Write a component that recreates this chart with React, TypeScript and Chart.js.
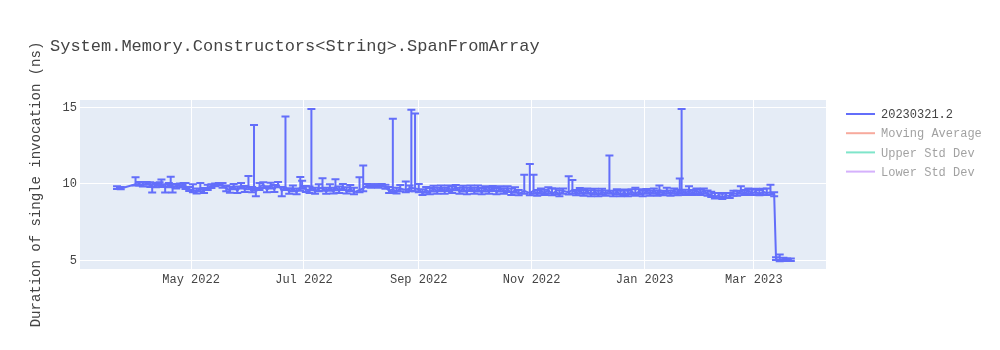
import { useEffect, useRef } from "react";
import { Chart, registerables } from "chart.js";
Chart.register(...registerables);

const TITLE = "System.Memory.Constructors<String>.SpanFromArray";
const Y_TITLE = "Duration of single invocation (ns)";
const SERIES_NAMES = ["20230321.2", "Moving Average", "Upper Std Dev", "Lower Std Dev"];
const SERIES_COLORS = ["#636efa", "#EF553B", "#00cc96", "#ab63fa"];
const SERIES_VISIBLE = [true, false, false, false];

const DATES = [
  "2022-03-22", "2022-03-24", "2022-04-01", "2022-04-03", "2022-04-05", "2022-04-07", "2022-04-09", "2022-04-10", "2022-04-12", "2022-04-14",
  "2022-04-15", "2022-04-17", "2022-04-19", "2022-04-20", "2022-04-21", "2022-04-23", "2022-04-25", "2022-04-27", "2022-04-28", "2022-04-30",
  "2022-05-02", "2022-05-04", "2022-05-06", "2022-05-08", "2022-05-10", "2022-05-12", "2022-05-14", "2022-05-16", "2022-05-18", "2022-05-20",
  "2022-05-22", "2022-05-24", "2022-05-26", "2022-05-28", "2022-05-30", "2022-06-01", "2022-06-03", "2022-06-04", "2022-06-05", "2022-06-07",
  "2022-06-09", "2022-06-11", "2022-06-13", "2022-06-15", "2022-06-17", "2022-06-19", "2022-06-21", "2022-06-23", "2022-06-25", "2022-06-27",
  "2022-06-29", "2022-06-30", "2022-07-02", "2022-07-04", "2022-07-05", "2022-07-07", "2022-07-09", "2022-07-11", "2022-07-13", "2022-07-15",
  "2022-07-17", "2022-07-18", "2022-07-20", "2022-07-22", "2022-07-24", "2022-07-26", "2022-07-28", "2022-07-31", "2022-08-02", "2022-08-04",
  "2022-08-06", "2022-08-08", "2022-08-10", "2022-08-12", "2022-08-14", "2022-08-16", "2022-08-18", "2022-08-20", "2022-08-22", "2022-08-25",
  "2022-08-27", "2022-08-28", "2022-08-30", "2022-09-01", "2022-09-03", "2022-09-05", "2022-09-07", "2022-09-09", "2022-09-11", "2022-09-13",
  "2022-09-15", "2022-09-17", "2022-09-19", "2022-09-21", "2022-09-23", "2022-09-25", "2022-09-27", "2022-09-29", "2022-10-01", "2022-10-03",
  "2022-10-05", "2022-10-07", "2022-10-09", "2022-10-11", "2022-10-13", "2022-10-15", "2022-10-17", "2022-10-19", "2022-10-21", "2022-10-23",
  "2022-10-25", "2022-10-28", "2022-10-31", "2022-11-02", "2022-11-04", "2022-11-06", "2022-11-08", "2022-11-10", "2022-11-12", "2022-11-14",
  "2022-11-16", "2022-11-18", "2022-11-21", "2022-11-23", "2022-11-25", "2022-11-27", "2022-11-29", "2022-12-01", "2022-12-03", "2022-12-05",
  "2022-12-07", "2022-12-09", "2022-12-11", "2022-12-13", "2022-12-15", "2022-12-17", "2022-12-19", "2022-12-21", "2022-12-23", "2022-12-25",
  "2022-12-27", "2022-12-29", "2022-12-31", "2023-01-02", "2023-01-04", "2023-01-06", "2023-01-08", "2023-01-09", "2023-01-11", "2023-01-13",
  "2023-01-15", "2023-01-17", "2023-01-19", "2023-01-20", "2023-01-21", "2023-01-23", "2023-01-25", "2023-01-27", "2023-01-29", "2023-01-31",
  "2023-02-02", "2023-02-04", "2023-02-06", "2023-02-08", "2023-02-10", "2023-02-12", "2023-02-14", "2023-02-16", "2023-02-18", "2023-02-20",
  "2023-02-22", "2023-02-24", "2023-02-26", "2023-02-28", "2023-03-02", "2023-03-04", "2023-03-06", "2023-03-08", "2023-03-10", "2023-03-12",
  "2023-03-13", "2023-03-15", "2023-03-17", "2023-03-19", "2023-03-21",
];

const VALUES = [
  9.72, 9.70, 9.98, 10.0, 9.95, 10.02, 9.95, 9.8, 9.9, 10.0,
  9.95, 9.8, 9.9, 9.95, 9.75, 9.85, 9.9, 9.95, 9.85, 9.65,
  9.6, 9.5, 9.7, 9.55, 9.75, 9.85, 9.95, 9.97, 9.9, 9.7,
  9.6, 9.85, 9.55, 9.9, 9.65, 9.85, 9.6, 9.8, 9.55, 9.8,
  9.95, 9.6, 9.9, 9.65, 10.0, 9.55, 9.8, 9.5, 9.7, 9.45,
  9.75, 9.9, 9.65, 9.55, 9.8, 9.5, 9.7, 9.75, 9.5, 9.75,
  9.5, 9.8, 9.55, 9.8, 9.5, 9.7, 9.45, 9.6, 9.7, 9.9,
  9.85, 9.9, 9.85, 9.9, 9.8, 9.55, 9.65, 9.5, 9.7, 9.6,
  9.7, 9.75, 9.7, 9.65, 9.4, 9.6, 9.45, 9.7, 9.5, 9.75,
  9.5, 9.75, 9.55, 9.8, 9.5, 9.7, 9.45, 9.75, 9.5, 9.7,
  9.45, 9.7, 9.5, 9.75, 9.45, 9.7, 9.5, 9.65, 9.4, 9.6,
  9.35, 9.55, 9.4, 9.55, 9.35, 9.55, 9.4, 9.6, 9.35, 9.5,
  9.3, 9.55, 9.45, 9.6, 9.4, 9.55, 9.35, 9.55, 9.3, 9.5,
  9.3, 9.5, 9.35, 9.55, 9.3, 9.5, 9.3, 9.45, 9.3, 9.5,
  9.35, 9.5, 9.3, 9.55, 9.35, 9.55, 9.35, 9.5, 9.4, 9.55,
  9.35, 9.55, 9.4, 9.55, 9.6, 9.4, 9.55, 9.4, 9.55, 9.4,
  9.55, 9.35, 9.3, 9.15, 9.25, 9.1, 9.25, 9.2, 9.4, 9.35,
  9.55, 9.4, 9.55, 9.4, 9.5, 9.35, 9.5, 9.4, 9.45, 9.3,
  5.1, 5.0, 5.1, 5.02, 5.05,
];

const ERR_PLUS = [
  0.13, 0.10, 0.45, 0.12, 0.15, 0.10, 0.15, 0.18, 0.15, 0.10,
  0.33, 0.18, 0.15, 0.52, 0.20, 0.15, 0.12, 0.10, 0.20, 0.15,
  0.38, 0.20, 0.35, 0.18, 0.20, 0.12, 0.08, 0.08, 0.15, 0.20,
  0.22, 0.15, 0.28, 0.15, 0.22, 0.67, 0.20, 4.05, 0.18, 0.25,
  0.15, 0.25, 0.18, 0.28, 0.12, 0.25, 4.60, 0.22, 0.20, 0.25,
  0.70, 0.30, 0.22, 0.28, 5.10, 0.25, 0.28, 0.62, 0.25, 0.22,
  0.25, 0.50, 0.28, 0.20, 0.28, 0.22, 0.30, 0.83, 1.50, 0.10,
  0.12, 0.08, 0.12, 0.10, 0.15, 0.25, 4.60, 0.25, 0.22, 0.55,
  0.20, 5.10, 4.90, 0.35, 0.25, 0.20, 0.28, 0.18, 0.25, 0.15,
  0.25, 0.15, 0.28, 0.12, 0.25, 0.18, 0.30, 0.15, 0.25, 0.20,
  0.28, 0.15, 0.25, 0.12, 0.28, 0.15, 0.22, 0.20, 0.30, 0.18,
  0.25, 1.05, 1.90, 1.05, 0.25, 0.15, 0.22, 0.18, 0.35, 0.20,
  0.28, 0.15, 1.05, 0.65, 0.20, 0.18, 0.25, 0.15, 0.28, 0.18,
  0.25, 0.18, 0.22, 2.30, 0.25, 0.15, 0.25, 0.18, 0.25, 0.15,
  0.40, 0.15, 0.25, 0.12, 0.22, 0.15, 0.22, 0.40, 0.15, 0.20,
  0.22, 0.15, 0.22, 0.80, 5.30, 0.22, 0.30, 0.20, 0.15, 0.22,
  0.15, 0.22, 0.18, 0.25, 0.15, 0.25, 0.15, 0.20, 0.15, 0.20,
  0.30, 0.20, 0.15, 0.22, 0.18, 0.25, 0.18, 0.30, 0.50, 0.15,
  0.10, 0.38, 0.08, 0.10, 0.08,
];

const ERR_MINUS = [
  0.05, 0.05, 0.08, 0.10, 0.12, 0.08, 0.15, 0.37, 0.12, 0.10,
  0.15, 0.37, 0.12, 0.15, 0.32, 0.15, 0.12, 0.15, 0.18, 0.12,
  0.15, 0.12, 0.18, 0.15, 0.15, 0.12, 0.10, 0.08, 0.15, 0.18,
  0.18, 0.20, 0.15, 0.20, 0.18, 0.20, 0.15, 0.22, 0.35, 0.20,
  0.22, 0.15, 0.20, 0.18, 0.22, 0.35, 0.20, 0.15, 0.18, 0.12,
  0.20, 0.22, 0.18, 0.15, 0.22, 0.15, 0.18, 0.20, 0.15, 0.20,
  0.12, 0.22, 0.15, 0.20, 0.12, 0.18, 0.12, 0.15, 0.18, 0.10,
  0.10, 0.08, 0.10, 0.08, 0.12, 0.15, 0.18, 0.12, 0.18, 0.15,
  0.18, 0.20, 0.18, 0.20, 0.12, 0.18, 0.12, 0.20, 0.15, 0.22,
  0.15, 0.22, 0.15, 0.22, 0.15, 0.20, 0.12, 0.22, 0.15, 0.20,
  0.12, 0.20, 0.15, 0.22, 0.12, 0.20, 0.15, 0.18, 0.12, 0.18,
  0.10, 0.20, 0.15, 0.20, 0.12, 0.20, 0.12, 0.22, 0.10, 0.18,
  0.10, 0.20, 0.15, 0.22, 0.15, 0.20, 0.12, 0.20, 0.10, 0.18,
  0.10, 0.18, 0.12, 0.20, 0.10, 0.18, 0.10, 0.18, 0.10, 0.18,
  0.12, 0.18, 0.10, 0.20, 0.12, 0.20, 0.12, 0.18, 0.15, 0.20,
  0.12, 0.20, 0.15, 0.20, 0.18, 0.12, 0.20, 0.12, 0.20, 0.12,
  0.20, 0.12, 0.15, 0.10, 0.15, 0.08, 0.15, 0.12, 0.18, 0.12,
  0.20, 0.12, 0.20, 0.12, 0.18, 0.10, 0.18, 0.12, 0.15, 0.10,
  0.08, 0.05, 0.10, 0.05, 0.08,
];

const X_TICK_DATES = ["2022-05-01", "2022-07-01", "2022-09-01", "2022-11-01", "2023-01-01", "2023-03-01"];
const X_TICK_LABELS = ["May 2022", "Jul 2022", "Sep 2022", "Nov 2022", "Jan 2023", "Mar 2023"];
const X_RANGE = ["2022-03-02", "2023-04-09"];
const Y_TICKS = [5, 10, 15];
const Y_RANGE = [4.44, 15.48];

const FONT = "'Liberation Mono', 'Courier New', monospace";
const TEXT_COLOR = "#444444";
const PLOT_BG = "#E5ECF6";

const bgPlugin = {
  id: "plotBg",
  beforeDraw(chart: any) {
    const { ctx, chartArea } = chart;
    ctx.save();
    ctx.fillStyle = "#ffffff";
    ctx.fillRect(0, 0, chart.width, chart.height);
    ctx.fillStyle = PLOT_BG;
    ctx.fillRect(chartArea.left, chartArea.top, chartArea.right - chartArea.left, chartArea.bottom - chartArea.top);
    ctx.restore();
  },
};

const errorBarsPlugin = {
  id: "errorBars",
  afterDatasetsDraw(chart: any) {
    const { ctx, chartArea } = chart;
    const xs = chart.scales.x;
    const ys = chart.scales.y;
    ctx.save();
    ctx.beginPath();
    ctx.rect(chartArea.left, chartArea.top, chartArea.right - chartArea.left, chartArea.bottom - chartArea.top);
    ctx.clip();
    ctx.strokeStyle = SERIES_COLORS[0];
    ctx.lineWidth = 2;
    const half = 4;
    DATES.forEach((d, i) => {
      const px = xs.getPixelForValue(Date.parse(d));
      const hi = ys.getPixelForValue(VALUES[i] + ERR_PLUS[i]);
      const lo = ys.getPixelForValue(VALUES[i] - ERR_MINUS[i]);
      ctx.beginPath();
      ctx.moveTo(px, hi);
      ctx.lineTo(px, lo);
      ctx.moveTo(px - half, hi);
      ctx.lineTo(px + half, hi);
      ctx.moveTo(px - half, lo);
      ctx.lineTo(px + half, lo);
      ctx.stroke();
    });
    ctx.restore();
  },
};

const textPlugin = {
  id: "titleLegend",
  afterDraw(chart: any) {
    const { ctx, chartArea } = chart;
    ctx.save();
    ctx.fillStyle = TEXT_COLOR;
    ctx.font = `17px ${FONT}`;
    ctx.textAlign = "left";
    ctx.textBaseline = "alphabetic";
    ctx.fillText(TITLE, 50, 51);

    ctx.font = `12px ${FONT}`;
    ctx.textBaseline = "middle";
    chart.data.datasets.forEach((ds: any, i: number) => {
      const y = 114 + i * 19.2;
      const x0 = chartArea.right + 20;
      ctx.globalAlpha = SERIES_VISIBLE[i] ? 1 : 0.5;
      ctx.strokeStyle = ds.borderColor;
      ctx.lineWidth = 2;
      ctx.beginPath();
      ctx.moveTo(x0, y);
      ctx.lineTo(x0 + 29, y);
      ctx.stroke();
      ctx.fillStyle = TEXT_COLOR;
      ctx.fillText(ds.label, x0 + 35, y + 1);
    });
    ctx.restore();
  },
};

export default function App() {
  const ref = useRef<HTMLCanvasElement | null>(null);
  useEffect(() => {
    if (!ref.current) return;
    const chart = new Chart(ref.current, {
      type: "line",
      data: {
        datasets: SERIES_NAMES.map((name, i) => ({
          label: name,
          data: i === 0 ? DATES.map((d, j) => ({ x: Date.parse(d), y: VALUES[j] })) : [],
          borderColor: SERIES_COLORS[i],
          backgroundColor: SERIES_COLORS[i],
          borderWidth: 2,
          pointRadius: 0,
          tension: 0,
          hidden: !SERIES_VISIBLE[i],
        })),
      },
      options: {
        responsive: false,
        animation: false,
        devicePixelRatio: 1,
        layout: { padding: { left: 0, right: 174, top: 100, bottom: 0 } },
        plugins: {
          legend: { display: false },
          title: { display: false },
          tooltip: { enabled: false },
        },
        scales: {
          x: {
            type: "linear",
            min: Date.parse(X_RANGE[0]),
            max: Date.parse(X_RANGE[1]),
            afterBuildTicks: (s: any) => {
              s.ticks = X_TICK_DATES.map((d) => ({ value: Date.parse(d) }));
            },
            afterFit: (s: any) => {
              s.height = 81;
            },
            ticks: {
              callback: (_v: any, i: number) => X_TICK_LABELS[i],
              autoSkip: false,
              maxRotation: 0,
              minRotation: 0,
              padding: 4,
              color: TEXT_COLOR,
              font: { family: FONT, size: 12 },
            },
            grid: { color: "#ffffff", lineWidth: 1, drawTicks: false },
            border: { display: false },
          },
          y: {
            type: "linear",
            min: Y_RANGE[0],
            max: Y_RANGE[1],
            afterBuildTicks: (s: any) => {
              s.ticks = Y_TICKS.map((v) => ({ value: v }));
            },
            afterFit: (s: any) => {
              s.width = 80;
            },
            ticks: {
              callback: (v: any) => String(v),
              padding: 3,
              color: TEXT_COLOR,
              font: { family: FONT, size: 12 },
            },
            grid: { color: "#ffffff", lineWidth: 1, drawTicks: false },
            border: { display: false },
            title: {
              display: true,
              text: Y_TITLE,
              color: TEXT_COLOR,
              font: { family: FONT, size: 14 },
              padding: { top: 28, bottom: 0 },
            },
          },
        },
      } as any,
      plugins: [bgPlugin, errorBarsPlugin, textPlugin],
    });
    return () => chart.destroy();
  }, []);

  return (
    <div style={{ position: "fixed", left: 0, top: 0, width: 1000, height: 350 }}>
      <canvas ref={ref} width={1000} height={350} style={{ display: "block", width: 1000, height: 350 }} />
    </div>
  );
}
